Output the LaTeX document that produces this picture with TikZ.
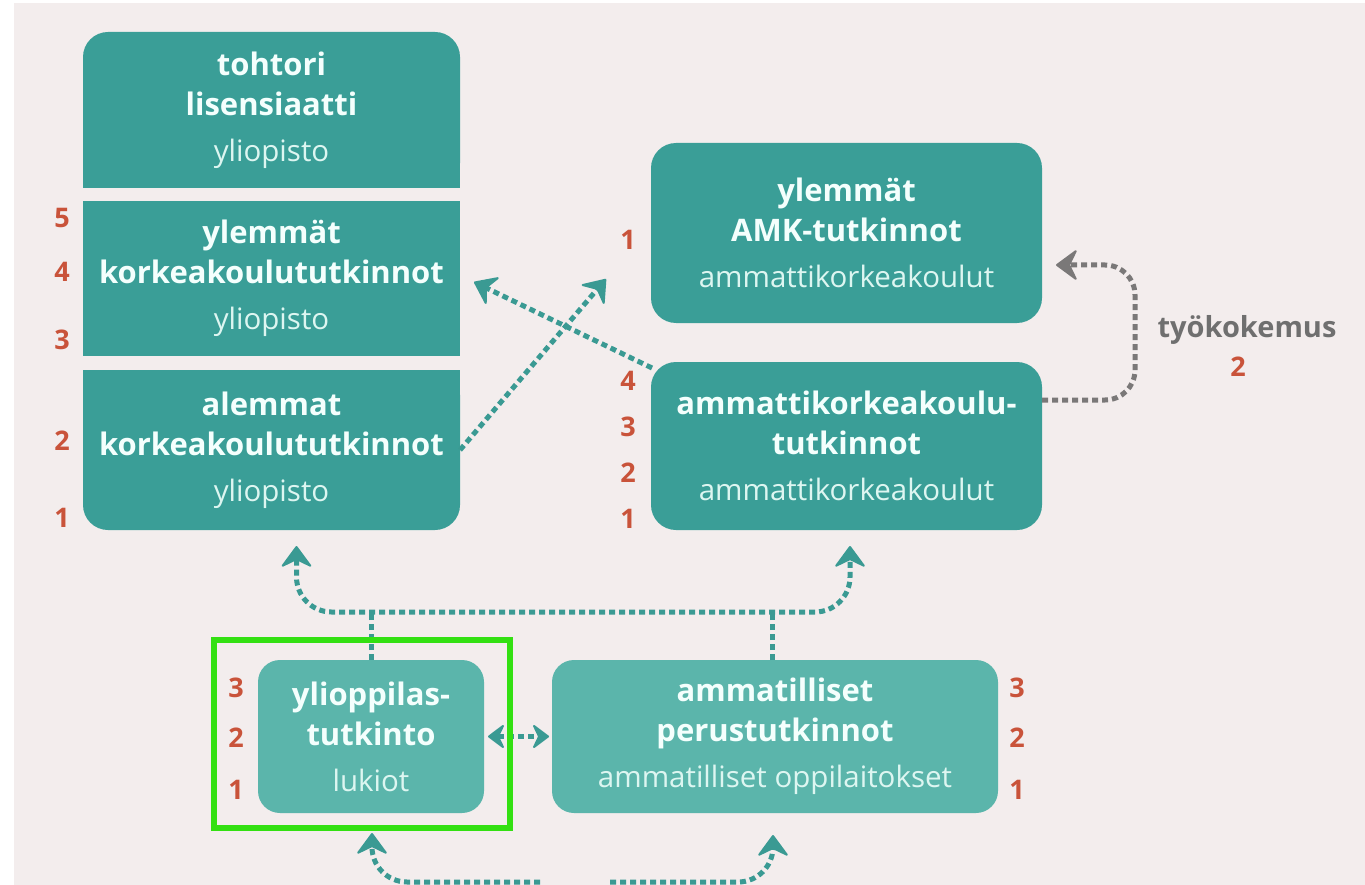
\documentclass[tikz,border=0pt]{standalone}
\usepackage{fontspec}
\setmainfont{Open Sans}
\usetikzlibrary{arrows.meta,backgrounds}
\definecolor{bgc}{HTML}{F3EDED}
\definecolor{dteal}{HTML}{3A9E97}
\definecolor{lteal}{HTML}{5BB5AB}
\definecolor{ateal}{HTML}{3A9A93}
\definecolor{txt}{HTML}{F4FFFD}
\definecolor{subtxt}{HTML}{DDF6F1}
\definecolor{orng}{HTML}{C9533A}
\definecolor{garr}{HTML}{7A7878}
\definecolor{gtxt}{HTML}{6F6F6F}
\definecolor{hgreen}{HTML}{33E012}
\newcommand\boldline[1]{{\fontsize{31}{40}\selectfont\bfseries #1}}
\newcommand\subline[1]{\textcolor{subtxt}{#1}}
\begin{document}
\begin{tikzpicture}[x=1pt,y=-1pt,
  box/.style={fill=dteal, text=txt, align=center, inner sep=0pt, outer sep=0pt,
    font=\fontsize{29.5}{40}\selectfont},
  lbox/.style={box, fill=lteal, rounded corners=22pt},
  num/.style={font=\fontsize{27}{30}\selectfont\bfseries, text=orng, inner sep=0pt},
  dots/.style={draw=ateal, line width=5pt, dash pattern=on 6pt off 4pt},
  gdots/.style={draw=garr, line width=5pt, dash pattern=on 6pt off 4pt},
  >={Stealth[length=17pt,width=25pt,inset=6pt,line width=2pt,round,scale=1.35]},
  small/.style={>={Stealth[length=14pt,width=21pt,inset=5pt,line width=2pt,round,scale=1.3]}},
  hilite/.style={draw=hgreen, line width=6pt, inner sep=0pt}
]
\useasboundingbox (0,0) rectangle (1365,885);

% university column
\node[box, rounded corners=25pt, minimum width=377pt, minimum height=156pt] (b1) at (271.5,110)
  {\boldline{tohtori}\\\boldline{lisensiaatti}\\[6pt]\subline{yliopisto}};
\node[box, minimum width=377pt, minimum height=155pt] (b2) at (271.5,278.5)
  {\boldline{ylemmät}\\\boldline{korkeakoulututkinnot}\\[6pt]\subline{yliopisto}};
\node[box, rounded corners=25pt, minimum width=377pt, minimum height=160pt] (b3) at (271.5,450)
  {\boldline{alemmat}\\\boldline{korkeakoulututkinnot}\\[6pt]\subline{yliopisto}};

% AMK column
\node[box, rounded corners=25pt, minimum width=391pt, minimum height=180pt] (a1) at (846.5,233)
  {\boldline{ylemmät}\\\boldline{AMK-tutkinnot}\\[6pt]\subline{ammattikorkeakoulut}};
\node[box, rounded corners=25pt, minimum width=391pt, minimum height=168pt] (a2) at (846.5,446)
  {\boldline{ammattikorkeakoulu-}\\\boldline{tutkinnot}\\[6pt]\subline{ammattikorkeakoulut}};

% secondary level
\node[lbox, minimum width=226pt, minimum height=153pt] (y1) at (371,736.5)
  {\boldline{ylioppilas-}\\\boldline{tutkinto}\\[6pt]\subline{lukiot}};
\node[lbox, minimum width=446pt, minimum height=153pt] (m1) at (775,736.5)
  {\boldline{ammatilliset}\\\boldline{perustutkinnot}\\[6pt]\subline{ammatilliset oppilaitokset}};

% year numbers
\node[num] (n5) at (62,218) {5};
\node[num] (n4) at (62,272) {4};
\node[num] (n3) at (62,340) {3};
\node[num] (n2) at (62,441) {2};
\node[num] (n1) at (62,518) {1};
\node[num] (r1) at (628,240) {1};
\node[num] (s4) at (628,381) {4};
\node[num] (s3) at (628,427) {3};
\node[num] (s2) at (628,473) {2};
\node[num] (s1) at (628,519) {1};
\node[num] (l3) at (236,688) {3};
\node[num] (l2) at (236,738) {2};
\node[num] (l1) at (236,790) {1};
\node[num] (m3) at (1017,688) {3};
\node[num] (m2) at (1017,738) {2};
\node[num] (mm1) at (1017,790) {1};

% work experience label
\node[font=\fontsize{29}{34}\selectfont\bfseries, text=gtxt, inner sep=0pt] (wk) at (1247,330) {työkokemus};
\node[num] (wk2) at (1238,367) {2};

% connectors
\coordinate (t1) at (606,279);
\coordinate (t2) at (474,282);
\draw[dots,->] (b3.east) -- (t1);
\draw[dots,->] ([shift={(1,6)}]a2.north west) -- (t2);

\coordinate (g1) at ([shift={(14,32)}]a1.east);
\draw[gdots,->,rounded corners=30pt] ([shift={(0,-46)}]a2.east) -| (1135,265) -- (g1);

\coordinate (u1) at ([shift={(25,16)}]b3.south);
\coordinate (u2) at ([shift={(3.5,16)}]a2.south);
\draw[dots,<->,rounded corners=35pt] (u1) |- (560,612) -| (u2);
\draw[dots] (y1.north) -- ++(0,-48);
\draw[dots] ([xshift=-3pt]m1.north) -- ++(0,-48);

\draw[dots,small,<->] ([xshift=4pt]y1.east) -- ([xshift=-3pt]m1.west);

\coordinate (e1) at (540,882);
\coordinate (e2) at (610,882);
\coordinate (d1) at ([shift={(1,20)}]y1.south);
\coordinate (d2) at ([shift={(-2,22)}]m1.south);
\draw[dots,->,rounded corners=35pt] (e1) -| (d1);
\draw[dots,->,rounded corners=35pt] (e2) -| (d2);

% highlight frame
\node[hilite, minimum width=296pt, minimum height=188pt] (hl) at (361.5,733.5) {};

\begin{scope}[on background layer]
  \fill[white] (0,0) rectangle (1365,885);
  \fill[bgc] (14,3) rectangle (1365,885);
  \fill[dteal] (b1.west) rectangle (b1.south east);
  \fill[dteal] (b3.north west) rectangle (b3.east);
\end{scope}
\end{tikzpicture}
\end{document}
